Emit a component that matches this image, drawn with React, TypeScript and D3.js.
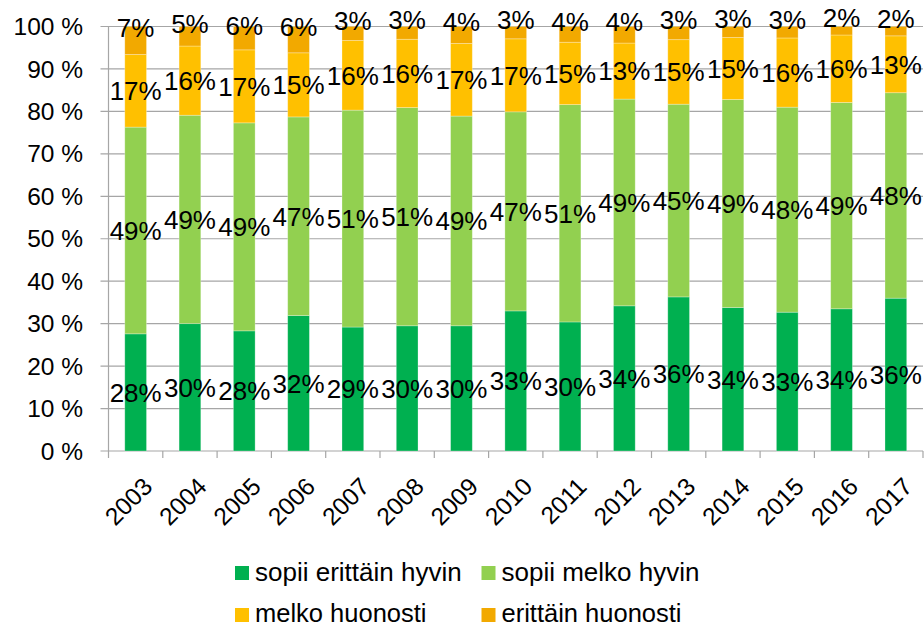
import React from "react";
import * as d3 from "d3";

const years = ["2003","2004","2005","2006","2007","2008","2009","2010","2011","2012","2013","2014","2015","2016","2017"];
const erittainHyvin = [27.6, 30.0, 28.3, 31.9, 29.2, 29.5, 29.5, 33.0, 30.4, 34.2, 36.3, 33.8, 32.7, 33.5, 36.0];
const melkoHyvin = [48.7, 49.1, 49.0, 46.8, 51.1, 51.4, 49.4, 46.9, 51.2, 48.7, 45.4, 49.0, 48.3, 48.6, 48.4];
const melkoHuonosti = [17.1, 16.3, 17.2, 15.1, 16.4, 16.1, 17.1, 17.2, 14.7, 13.2, 15.2, 14.6, 16.3, 15.9, 13.4];
const erittainHuonosti = [6.6, 4.6, 5.5, 6.2, 3.3, 3.0, 4.0, 2.9, 3.7, 3.9, 3.1, 2.6, 2.7, 2.0, 2.2];
const seriesNames = ["sopii erittäin hyvin", "sopii melko hyvin", "melko huonosti", "erittäin huonosti"];
const seriesColors = ["#00B050", "#92D050", "#FFC000", "#F2A900"];
const yTicks = [0, 10, 20, 30, 40, 50, 60, 70, 80, 90, 100];

export default function App() {
  const W = 924, H = 626;
  const left = 108.5, right = 923, top = 26.5, bottom = 451;
  const x = d3.scaleBand<string>().domain(years).range([left, right]).paddingInner(0.6).paddingOuter(0.3);
  const xOuter = d3.scaleBand<string>().domain(years).range([left, right]);
  const y = d3.scaleLinear().domain([0, 100]).range([bottom, top]);
  const all = [erittainHyvin, melkoHyvin, melkoHuonosti, erittainHuonosti];
  const rows = years.map((yr, i) => {
    const o: any = { year: yr };
    all.forEach((s, k) => (o["s" + k] = s[i]));
    return o;
  });
  const stack = d3.stack<any>().keys(["s0", "s1", "s2", "s3"])(rows);
  const font = "'Liberation Sans', Arial, sans-serif";
  const legend = [
    { x: 235, y: 566 },
    { x: 481.5, y: 566 },
    { x: 235, y: 608 },
    { x: 481.5, y: 608 },
  ];
  return (
    <svg width={W} height={H} style={{ position: "absolute", left: 0, top: 0, background: "#fff" }} fontFamily={font}>
      {yTicks.map((t) => (
        <g key={t}>
          <line x1={left - 8} x2={right} y1={y(t)} y2={y(t)} stroke="#a6a6a6" strokeWidth={1.2} />
          <text x={83} y={y(t)} dy="0.35em" textAnchor="end" fontSize={24.5} fill="#000">{t} %</text>
        </g>
      ))}
      <line x1={left} x2={left} y1={top} y2={bottom} stroke="#a6a6a6" strokeWidth={1.2} />
      {years.map((yr) => (
        <line key={yr} x1={xOuter(yr)!} x2={xOuter(yr)!} y1={bottom} y2={bottom + 7} stroke="#a6a6a6" strokeWidth={1.2} />
      ))}
      <line x1={right} x2={right} y1={bottom} y2={bottom + 7} stroke="#a6a6a6" strokeWidth={1.2} />
      {stack.map((layer, k) => (
        <g key={k}>
          {layer.map((d, i) => (
            <rect key={i} x={x(years[i])!} width={x.bandwidth()} y={y(d[1])} height={y(d[0]) - y(d[1])}
              fill={seriesColors[k]} stroke="#ffffff" strokeOpacity={0.35} strokeWidth={0.8} />
          ))}
        </g>
      ))}
      {stack.map((layer, k) => (
        <g key={"l" + k}>
          {layer.map((d, i) => {
            const cy = (y(d[0]) + y(d[1])) / 2 - (k === 3 ? 13 : 0);
            return (
              <text key={i} x={x(years[i])! + x.bandwidth() / 2} y={cy} dy="0.36em" textAnchor="middle" fontSize={26} fill="#000">
                {Math.round(d[1] - d[0])}%
              </text>
            );
          })}
        </g>
      ))}
      {years.map((yr) => (
        <text key={"t" + yr} transform={`translate(${x(yr)! + x.bandwidth() / 2 + 6},${bottom + 25}) rotate(-45)`}
          textAnchor="end" dy="0.7em" fontSize={24.5} fill="#000">{yr}</text>
      ))}
      {seriesNames.map((n, k) => (
        <g key={n}>
          <rect x={legend[k].x} y={legend[k].y} width={14} height={14} fill={seriesColors[k]} />
          <text x={legend[k].x + 20} y={legend[k].y + 6} dy="0.33em" fontSize={k >= 2 ? 25.5 : 26} fill="#000">{n}</text>
        </g>
      ))}
    </svg>
  );
}
